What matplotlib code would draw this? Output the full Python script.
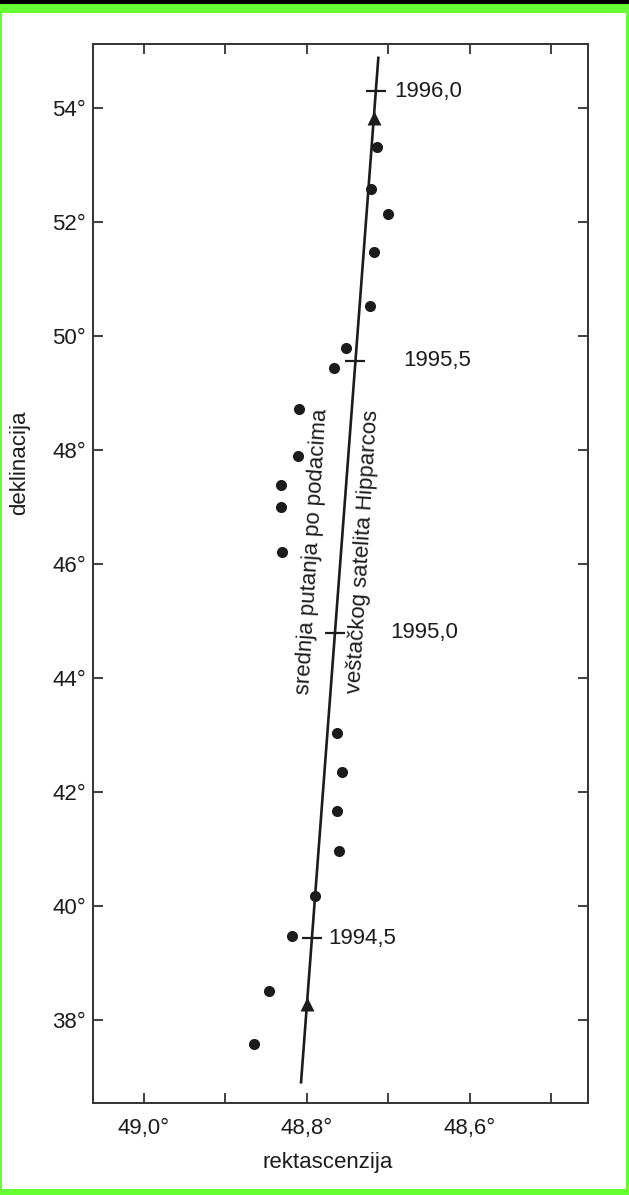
import numpy as np
import matplotlib
matplotlib.use('Agg')
import matplotlib.pyplot as plt
from matplotlib.patches import Rectangle

# Hipparcos measurements (right ascension, declination in degrees)
ra = [48.714, 48.721, 48.700, 48.718, 48.722, 48.752, 48.766, 48.810, 48.811, 48.831,
      48.832, 48.830, 48.763, 48.757, 48.763, 48.760, 48.790, 48.818, 48.846, 48.865]
dec = [53.32, 52.58, 52.14, 51.48, 50.54, 49.80, 49.45, 48.72, 47.91, 47.39,
       47.00, 46.21, 43.05, 42.35, 41.68, 40.98, 40.18, 39.48, 38.51, 37.59]

# mean path, start and end
path_ra = [48.807, 48.712]
path_dec = [36.89, 54.91]

# epochs along the path
epoch_labels = ['1996,0', '1995,5', '1995,0', '1994,5']
epoch_dec = [54.30, 49.57, 44.80, 39.44]
epoch_label_ra = [48.692, 48.681, 48.697, 48.774]

arrow_dec = [53.84, 38.29]

x_major = [49.0, 48.8, 48.6]
x_major_labels = ['49,0°', '48,8°', '48,6°']
x_minor = [48.9, 48.7, 48.5]
y_major = [38, 40, 42, 44, 46, 48, 50, 52, 54]
y_major_labels = [str(v) + '°' for v in y_major]

plt.rcParams['font.family'] = ['Liberation Sans', 'DejaVu Sans']
ink = '#1c1c1c'


def ra_on_path(d):
    return np.interp(d, path_dec, path_ra)


fig = plt.figure(figsize=(6.29, 11.95), dpi=100)

# scanned frame: green border, black strip on top
W, H = 629.0, 1195.0
fig.patches.append(Rectangle((0, 0), 1, 1, transform=fig.transFigure,
                             facecolor='#66ff33', edgecolor='none', zorder=-10))
fig.patches.append(Rectangle((2 / W, 6 / H), (W - 5) / W, (H - 19) / H,
                             transform=fig.transFigure, facecolor='white',
                             edgecolor='none', zorder=-9))
fig.patches.append(Rectangle((0, 1 - 4 / H), 1, 4 / H, transform=fig.transFigure,
                             facecolor='black', edgecolor='none', zorder=-8))

ax = fig.add_axes([93 / W, 1 - 1103 / H, 495 / W, 1059 / H])
ax.set_facecolor('none')

ax.plot(path_ra, path_dec, color=ink, lw=1.9, solid_capstyle='butt', zorder=2)
ax.plot(ra, dec, 'o', color=ink, ms=8, mec='none', zorder=3)

ax.plot(ra_on_path(epoch_dec), epoch_dec, '_', color=ink, ms=14, mew=1.6, zorder=2)
ax.plot(ra_on_path(arrow_dec), arrow_dec, '^', color=ink, ms=9.5, mec='none', zorder=3)

for lab, d, r in zip(epoch_labels, epoch_dec, epoch_label_ra):
    ax.text(r, d, lab, ha='left', va='center', fontsize=16, color=ink)

ax.text(48.793, 46.23, 'srednja putanja po podacima', rotation=86.5,
        rotation_mode='anchor', ha='center', va='center', fontsize=16, color=ink)
ax.text(48.731, 46.23, 'veštačkog satelita Hipparcos', rotation=86.5,
        rotation_mode='anchor', ha='center', va='center', fontsize=16, color=ink)

ax.set_xlim(49.062, 48.455)
ax.set_ylim(36.55, 55.13)

ax.set_xticks(x_major)
ax.set_xticklabels(x_major_labels)
ax.set_xticks(x_minor, minor=True)
ax.set_yticks(y_major)
ax.set_yticklabels(y_major_labels)

ax.tick_params(which='both', direction='in', top=True, right=True,
               length=7, width=1.3, color='#333333')
ax.tick_params(axis='x', which='major', labelsize=16, pad=11, labelcolor=ink)
ax.tick_params(axis='y', which='major', labelsize=16, pad=5, labelcolor=ink)

for s in ax.spines.values():
    s.set_linewidth(1.4)
    s.set_color('#333333')

ax.set_xlabel('rektascenzija', fontsize=16, color=ink)
ax.set_ylabel('deklinacija', fontsize=16, color=ink)
ax.xaxis.set_label_coords(0.475, -0.046)
ax.yaxis.set_label_coords(-0.128, 0.605)

fig.savefig('out.png', dpi=100)
